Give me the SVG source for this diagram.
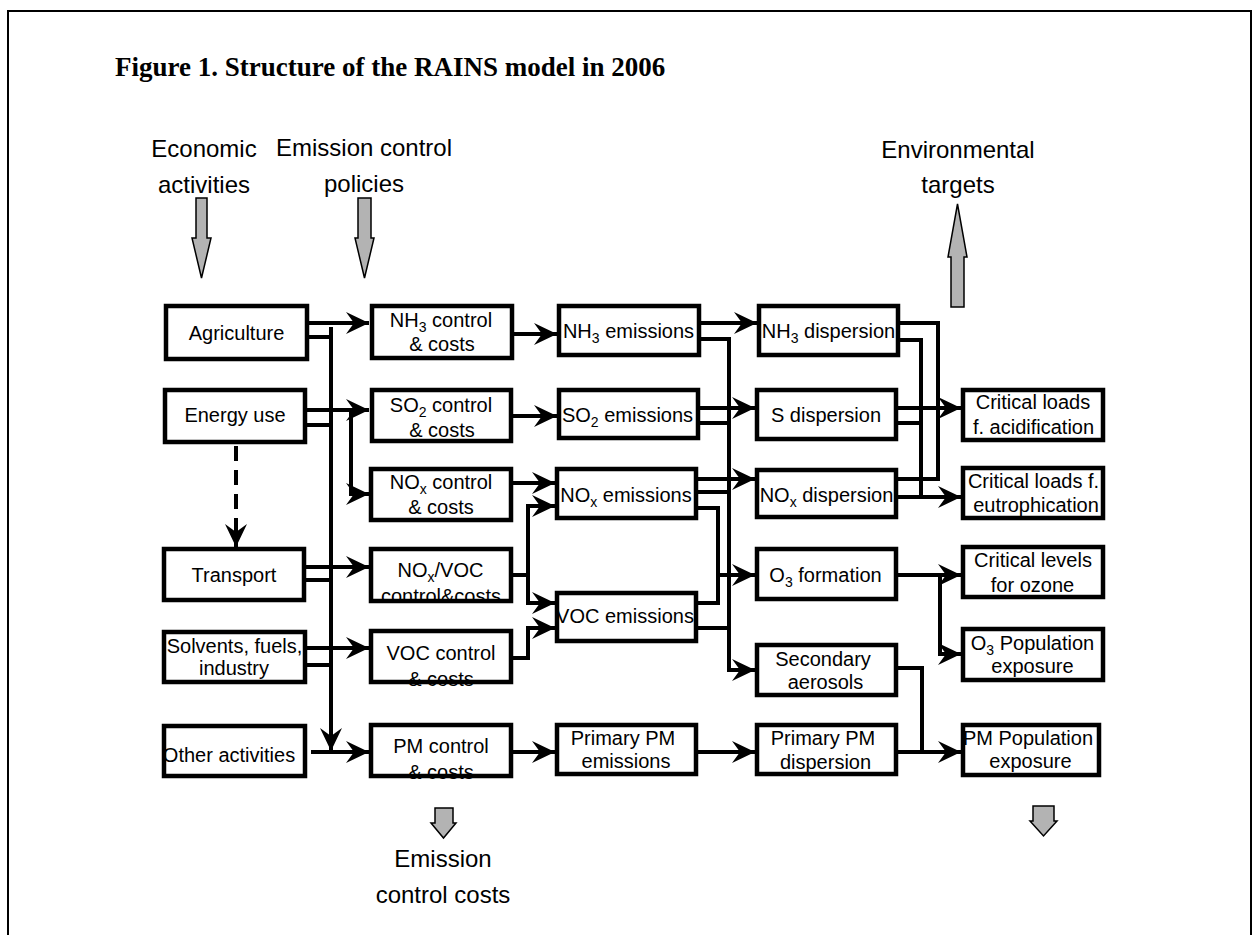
<svg xmlns="http://www.w3.org/2000/svg" width="1259" height="935" viewBox="0 0 1259 935">
<style>
.box{fill:none;stroke:#000;stroke-width:4.5}
.t{font-family:"Liberation Sans",Arial,sans-serif;font-size:20px;text-anchor:middle;fill:#000}
.h{font-family:"Liberation Sans",Arial,sans-serif;font-size:24px;text-anchor:middle;fill:#000}
.c{fill:none;stroke:#000;stroke-width:4}
.g{fill:#b3b3b3;stroke:#000;stroke-width:1.5}
.title{font-family:"Liberation Serif","Times New Roman",serif;font-size:27px;font-weight:bold;fill:#000}
</style>
<defs>
<marker id="ah" markerUnits="userSpaceOnUse" markerWidth="24" markerHeight="22" refX="23" refY="11" orient="auto" viewBox="0 0 24 22">
<path d="M0,0 L23,11 L0,22 L8,11 Z" fill="#000"/>
</marker>
</defs>
<rect x="0" y="0" width="1259" height="935" fill="#fff"/>
<path d="M8,935 V11 H1251 V935" fill="none" stroke="#000" stroke-width="2"/>
<text class="title" x="115" y="76">Figure 1. Structure of the RAINS model in 2006</text>

<g id="hdr-economic">
<text class="h" x="204" y="157">Economic</text>
<text class="h" x="204" y="193">activities</text>
<polygon class="g" points="196,198 207,198 207,238 211,238 201.5,278 192,238 196,238"/>
</g>
<g id="hdr-policies">
<text class="h" x="364" y="156">Emission control</text>
<text class="h" x="364" y="192">policies</text>
<polygon class="g" points="358,198 371,198 371,238 374,238 364.5,278 355,238 358,238"/>
</g>
<g id="hdr-targets">
<text class="h" x="958" y="158">Environmental</text>
<text class="h" x="958" y="193">targets</text>
<polygon class="g" points="951,307 964,307 964,257 967,257 957.5,204 948,257 951,257"/>
</g>
<g id="hdr-costs">
<polygon class="g" points="435,808 453,808 453,823 456,823 443.5,838 431,823 435,823"/>
<text class="h" x="443" y="867">Emission</text>
<text class="h" x="443" y="903">control costs</text>
</g>
<g id="hdr-right-arrow">
<polygon class="g" points="1033,806 1054,806 1054,821 1057,821 1043.5,836 1030,821 1033,821"/>
</g>

<g id="connectors">
<path class="c" d="M309,323 H369" marker-end="url(#ah)"/>
<path class="c" d="M309,337 H331"/>
<path class="c" d="M331,327 V751" marker-end="url(#ah)"/>
<path class="c" d="M307,410 H369" marker-end="url(#ah)"/>
<path class="c" d="M307,425 H331"/>
<path class="c" d="M351,410 V494 H369" marker-end="url(#ah)"/>
<path class="c" d="M306,567 H369" marker-end="url(#ah)"/>
<path class="c" d="M306,580 H331"/>
<path class="c" d="M307,648 H369" marker-end="url(#ah)"/>
<path class="c" d="M307,665 H331"/>
<path class="c" d="M311,752 H369" marker-end="url(#ah)"/>
<path class="c" d="M236,446 V547" stroke-dasharray="15 9" marker-end="url(#ah)"/>

<path class="c" d="M514,334 H557" marker-end="url(#ah)"/>
<path class="c" d="M513,416 H557" marker-end="url(#ah)"/>
<path class="c" d="M513,483 H555" marker-end="url(#ah)"/>
<path class="c" d="M513,575 H528 V506 H555" marker-end="url(#ah)"/>
<path class="c" d="M528,573 V603 H555" marker-end="url(#ah)"/>
<path class="c" d="M513,658 H528 V628 H555" marker-end="url(#ah)"/>
<path class="c" d="M513,752 H555" marker-end="url(#ah)"/>

<path class="c" d="M701,323 H757" marker-end="url(#ah)"/>
<path class="c" d="M701,339 H729 V670 H755" marker-end="url(#ah)"/>
<path class="c" d="M700,408 H755" marker-end="url(#ah)"/>
<path class="c" d="M700,423 H729"/>
<path class="c" d="M698,479 H755" marker-end="url(#ah)"/>
<path class="c" d="M698,492 H729"/>
<path class="c" d="M698,508 H718 V603 H698"/>
<path class="c" d="M718,575 H755" marker-end="url(#ah)"/>
<path class="c" d="M698,628 H729"/>
<path class="c" d="M698,752 H755" marker-end="url(#ah)"/>

<path class="c" d="M900,323 H938 V479 H898"/>
<path class="c" d="M900,340 H921 V497"/>
<path class="c" d="M898,408 H961" marker-end="url(#ah)"/>
<path class="c" d="M898,423 H921"/>
<path class="c" d="M898,497 H961" marker-end="url(#ah)"/>
<path class="c" d="M898,575 H961" marker-end="url(#ah)"/>
<path class="c" d="M940,575 V654 H961" marker-end="url(#ah)"/>
<path class="c" d="M898,668 H922 V752"/>
<path class="c" d="M898,752 H961" marker-end="url(#ah)"/>
</g>

<g id="n-agriculture"><text class="t" x="236.5" y="340">Agriculture</text><rect class="box" x="166" y="306" width="141" height="53"/></g>
<g id="n-energy"><text class="t" x="235" y="422">Energy use</text><rect class="box" x="165" y="390" width="140" height="52"/></g>
<g id="n-transport"><text class="t" x="234" y="582">Transport</text><rect class="box" x="164" y="549" width="140" height="51"/></g>
<g id="n-solvents"><text class="t" x="234.5" y="653">Solvents, fuels,</text><text class="t" x="234" y="675">industry</text><rect class="box" x="164" y="632" width="141" height="50"/></g>
<g id="n-other"><text class="t" x="229" y="762">Other activities</text><rect class="box" x="164" y="726" width="141" height="50"/></g>

<g id="n-nh3ctl"><text class="t" x="441" y="327">NH<tspan font-size="14" dy="5">3</tspan><tspan dy="-5"> control</tspan></text><text class="t" x="442" y="351">&amp; costs</text><rect class="box" x="372" y="306" width="140" height="52"/></g>
<g id="n-so2ctl"><text class="t" x="441" y="412">SO<tspan font-size="14" dy="5">2</tspan><tspan dy="-5"> control</tspan></text><text class="t" x="442" y="437">&amp; costs</text><rect class="box" x="372" y="390" width="139" height="51"/></g>
<g id="n-noxctl"><text class="t" x="441" y="489">NO<tspan font-size="14" dy="5">x</tspan><tspan dy="-5"> control</tspan></text><text class="t" x="441" y="514">&amp; costs</text><rect class="box" x="371" y="469" width="140" height="51"/></g>
<g id="n-noxvocctl"><text class="t" x="440.5" y="577">NO<tspan font-size="14" dy="5">x</tspan><tspan dy="-5">/VOC</tspan></text><text class="t" x="441" y="603" font-size="18.5">control&amp;costs</text><rect class="box" x="371" y="549" width="140" height="52"/></g>
<g id="n-vocctl"><text class="t" x="441" y="660">VOC control</text><text class="t" x="441" y="686">&amp; costs</text><rect class="box" x="371" y="631" width="140" height="51"/></g>
<g id="n-pmctl"><text class="t" x="441" y="753">PM control</text><text class="t" x="441" y="779">&amp; costs</text><rect class="box" x="371" y="725" width="140" height="51"/></g>

<g id="n-nh3em"><text class="t" x="628.5" y="338">NH<tspan font-size="14" dy="5">3</tspan><tspan dy="-5"> emissions</tspan></text><rect class="box" x="559" y="306" width="140" height="49"/></g>
<g id="n-so2em"><text class="t" x="627.5" y="422">SO<tspan font-size="14" dy="5">2</tspan><tspan dy="-5"> emissions</tspan></text><rect class="box" x="559" y="390" width="139" height="48"/></g>
<g id="n-noxem"><text class="t" x="626" y="502">NO<tspan font-size="14" dy="5">x</tspan><tspan dy="-5"> emissions</tspan></text><rect class="box" x="557" y="469" width="139" height="49"/></g>
<g id="n-vocem"><text class="t" x="625" y="623">VOC emissions</text><rect class="box" x="557" y="593" width="139" height="48"/></g>
<g id="n-ppmem"><text class="t" x="623" y="745">Primary PM</text><text class="t" x="626" y="768">emissions</text><rect class="box" x="557" y="725" width="139" height="49"/></g>

<g id="n-nh3disp"><text class="t" x="828.5" y="338">NH<tspan font-size="14" dy="5">3</tspan><tspan dy="-5"> dispersion</tspan></text><rect class="box" x="759" y="306" width="139" height="49"/></g>
<g id="n-sdisp"><text class="t" x="826" y="422">S dispersion</text><rect class="box" x="757" y="390" width="139" height="49"/></g>
<g id="n-noxdisp"><text class="t" x="826.5" y="502">NO<tspan font-size="14" dy="5">x</tspan><tspan dy="-5"> dispersion</tspan></text><rect class="box" x="757" y="470" width="139" height="47"/></g>
<g id="n-o3form"><text class="t" x="825.5" y="582">O<tspan font-size="14" dy="5">3</tspan><tspan dy="-5"> formation</tspan></text><rect class="box" x="757" y="549" width="139" height="50"/></g>
<g id="n-secaer"><text class="t" x="823" y="666">Secondary</text><text class="t" x="825.5" y="689">aerosols</text><rect class="box" x="757" y="645" width="139" height="50"/></g>
<g id="n-ppmdisp"><text class="t" x="823" y="745">Primary PM</text><text class="t" x="825.5" y="769">dispersion</text><rect class="box" x="757" y="725" width="139" height="49"/></g>

<g id="n-acid"><text class="t" x="1033" y="409">Critical loads</text><text class="t" x="1033.5" y="434">f. acidification</text><rect class="box" x="963" y="390" width="140" height="50"/></g>
<g id="n-eutro"><text class="t" x="1033.5" y="488">Critical loads f.</text><text class="t" x="1036" y="512">eutrophication</text><rect class="box" x="963" y="468" width="140" height="50"/></g>
<g id="n-ozone"><text class="t" x="1033" y="567">Critical levels</text><text class="t" x="1032.5" y="592">for ozone</text><rect class="box" x="963" y="547" width="140" height="50"/></g>
<g id="n-o3pop"><text class="t" x="1032.5" y="650">O<tspan font-size="14" dy="5">3</tspan><tspan dy="-5"> Population</tspan></text><text class="t" x="1032.5" y="673">exposure</text><rect class="box" x="963" y="629" width="140" height="51"/></g>
<g id="n-pmpop"><text class="t" x="1028" y="745">PM Population</text><text class="t" x="1030.5" y="768">exposure</text><rect class="box" x="963" y="725" width="136" height="50"/></g>
</svg>
